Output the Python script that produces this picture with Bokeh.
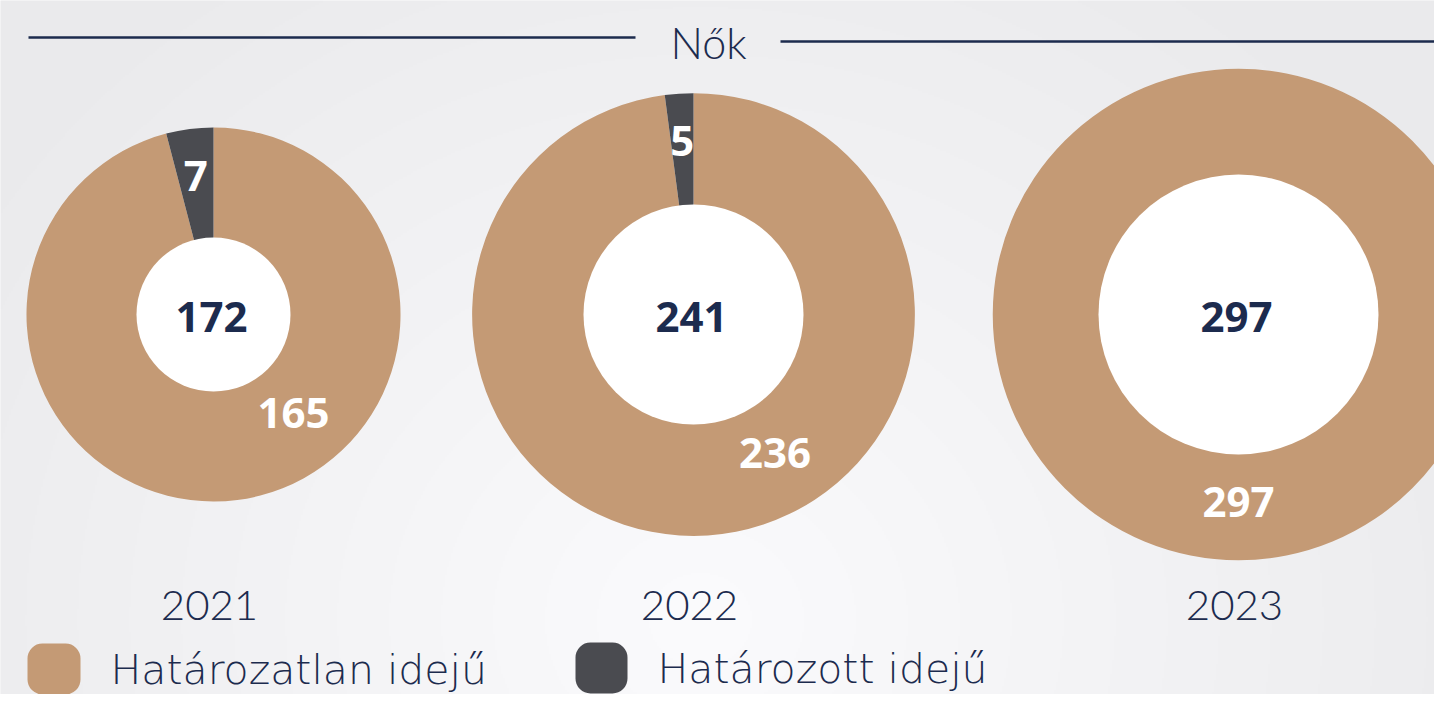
import numpy as np
from bokeh.plotting import figure
from bokeh.models import Range1d, ColumnDataSource
from bokeh.core.properties import value
from bokeh.embed import file_html
from bokeh.resources import INLINE

# ---------------- data ----------------
title = "Nők"
years = ["2021", "2022", "2023"]
indefinite = [165, 236, 297]   # Határozatlan idejű
fixed = [7, 5, 0]              # Határozott idejű
totals = [172, 241, 297]
legend_labels = ["Határozatlan idejű", "Határozott idejű"]

# ---------------- style ----------------
TAN = "#c49a75"
DARK = "#4a4b50"
NAVY = "#1c2b4e"
BOLD_FONT = value("Open Sans")
LIGHT_FONT = value("Lato Light")
WIDE_LIGHT_FONT = value("DejaVu Sans ExtraLight, DejaVu Sans Light, Lato Light")

W, H = 1434, 694
def Y(sy):
    return 710 - sy

centers_x = [213, 693, 1238]
center_sy = 314
K = 14.26                      # outer radius scale (radius ~ sqrt(total))
inner_r = [77, 110, 140]
indef_label_angle = [141, 149.5, 180]   # degrees clockwise from 12 o'clock

p = figure(width=W, height=H, x_range=Range1d(0, W), y_range=Range1d(710 - H, 710),
           output_backend="svg", toolbar_location=None, min_border=0)
p.axis.visible = False
p.grid.visible = False
p.outline_line_color = None
p.background_fill_color = "#efeff1"
p.border_fill_color = "#efeff1"

# background radial gradient
hh, ww = H // 2, W // 2
ys = np.linspace(710 - H, 710, hh)
xs = np.linspace(0, W, ww)
XX, YY = np.meshgrid(xs, ys)
SY = 710 - YY
d = np.sqrt((XX - 700) ** 2 + ((SY - 620) * 1.1) ** 2)
g = np.clip(251 - d / 780 * 15, 234, 251)
img = np.zeros((hh, ww), dtype=np.uint32)
view = img.view(dtype=np.uint8).reshape((hh, ww, 4))
view[..., 0] = g.astype(np.uint8)
view[..., 1] = g.astype(np.uint8)
view[..., 2] = np.clip(g + 2, 0, 255).astype(np.uint8)
view[..., 3] = 255
p.image_rgba(image=[img], x=0, y=710 - H, dw=W, dh=H)

# donut segments
seg = dict(x=[], y=[], ri=[], ro=[], s=[], e=[], c=[])
full = dict(x=[], y=[], ri=[], ro=[], c=[])
for i in range(len(years)):
    cx, cy = centers_x[i], Y(center_sy)
    ro = K * np.sqrt(totals[i])
    ri = inner_r[i] - 2
    start = np.pi / 2
    for v, col in ((indefinite[i], TAN), (fixed[i], DARK)):
        if v <= 0:
            continue
        if v >= totals[i]:
            full["x"].append(cx); full["y"].append(cy); full["ri"].append(ri)
            full["ro"].append(ro); full["c"].append(col)
            continue
        end = start - 2 * np.pi * v / totals[i]
        seg["x"].append(cx); seg["y"].append(cy); seg["ri"].append(ri); seg["ro"].append(ro)
        seg["s"].append(start); seg["e"].append(end); seg["c"].append(col)
        start = end

p.annular_wedge(x="x", y="y", inner_radius="ri", outer_radius="ro", start_angle="s",
                end_angle="e", direction="clock", fill_color="c", line_color=None,
                source=ColumnDataSource(seg))
p.annulus(x="x", y="y", inner_radius="ri", outer_radius="ro", fill_color="c",
          line_color=None, source=ColumnDataSource(full))

# inner white circles
p.circle(x=centers_x, y=[Y(center_sy)] * 3, radius=inner_r, fill_color="white", line_color=None)

# totals in the centre
p.text(x=[c - 2 for c in centers_x], y=[Y(center_sy + 2)] * 3, text=[str(t) for t in totals],
       text_font=BOLD_FONT, text_font_style="bold", text_font_size="42px",
       text_color=NAVY, text_align="center", text_baseline="middle")

# segment labels
lx, ly, lt = [], [], []
for i in range(len(years)):
    cx, cy = centers_x[i], Y(center_sy)
    ro = K * np.sqrt(totals[i])
    mid = (ro + inner_r[i]) / 2
    a = np.deg2rad(indef_label_angle[i])
    r = mid - 5
    lx.append(cx + r * np.sin(a)); ly.append(cy + r * np.cos(a)); lt.append(str(indefinite[i]))
    if fixed[i] > 0:
        am = 2 * np.pi * (1 - fixed[i] / totals[i] / 2)
        r = mid + 8
        lx.append(cx + r * np.sin(am)); ly.append(cy + r * np.cos(am)); lt.append(str(fixed[i]))
p.text(x=lx, y=ly, text=lt, text_font=BOLD_FONT, text_font_style="bold", text_font_size="42px",
       text_color="white", text_align="center", text_baseline="middle")

# years
p.text(x=[c - 4 for c in centers_x], y=[Y(605)] * 3, text=years, text_font=LIGHT_FONT,
       text_font_size="42px", text_color=NAVY, text_align="center", text_baseline="middle")

# title with lines
p.text(x=[708], y=[Y(42)], text=[title], text_font=LIGHT_FONT, text_font_size="43px",
       text_color=NAVY, text_align="center", text_baseline="middle")
p.segment(x0=[28, 780], y0=[Y(37), Y(41)], x1=[635, 1450], y1=[Y(37), Y(41)],
          line_color=NAVY, line_width=2.5)

# legend (kept inside the visible area)
p.quad(left=[27, 575], right=[80, 627], top=[Y(643), Y(642)], bottom=[Y(694), Y(693)],
       fill_color=[TAN, DARK], line_color=None, border_radius=15)
p.text(x=[110, 657], y=[Y(669), Y(668)], text=legend_labels, text_font=WIDE_LIGHT_FONT,
       text_font_size="41px", text_color=NAVY, text_align="left", text_baseline="middle")

open("out.html", "w").write(file_html(p, INLINE))
